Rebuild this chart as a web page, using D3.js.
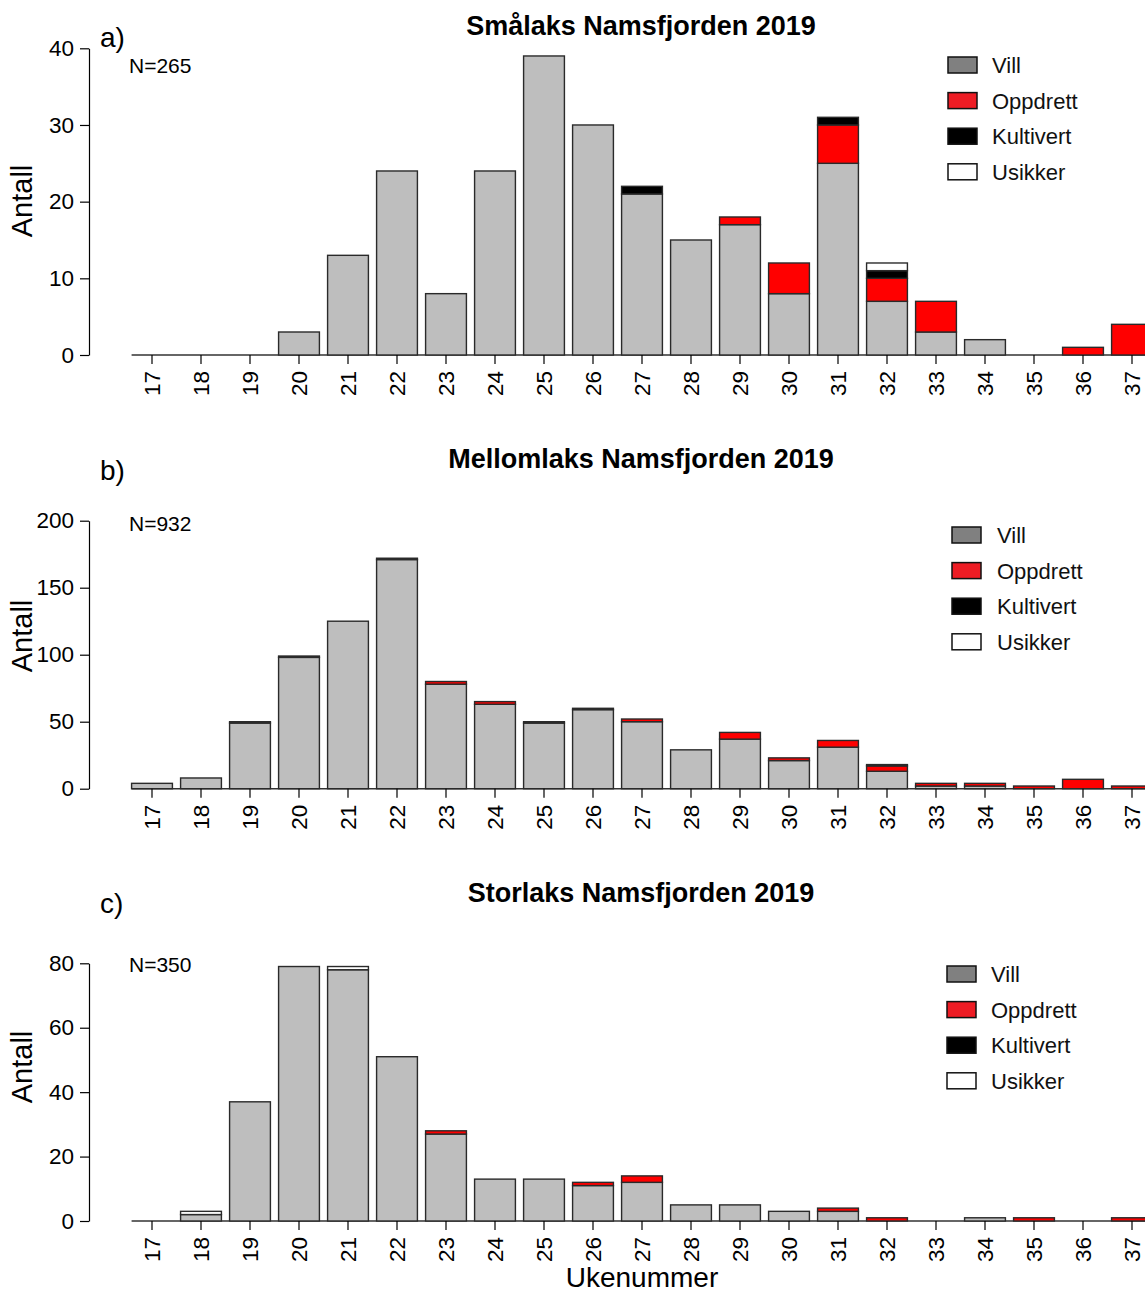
<!DOCTYPE html>
<html>
<head>
<meta charset="utf-8">
<script src="https://cdn.jsdelivr.net/npm/d3@7"></script>
<style>
  body { margin: 0; background: #fff; }
  svg { display: block; font-family: "Liberation Sans", Arial, sans-serif; }
</style>
</head>
<body>
<div id="chart"></div>
<script>
// Week numbers (x categories)
const weeks = d3.range(17, 38);

const categories = ['Vill', 'Oppdrett', 'Kultivert', 'Usikker'];
const colours = ['#bebebe', '#ff0000', '#000000', '#ffffff'];
const legendColours = ['#808080', '#ed1c24', '#000000', '#ffffff'];

// a) Smålaks
const smaVill      = [0,0,0,3,13,24,8,24,39,30,21,15,17,8,25,7,3,2,0,0,0];
const smaOppdrett  = [0,0,0,0,0,0,0,0,0,0,0,0,1,4,5,3,4,0,0,1,4];
const smaKultivert = [0,0,0,0,0,0,0,0,0,0,1,0,0,0,1,1,0,0,0,0,0];
const smaUsikker   = [0,0,0,0,0,0,0,0,0,0,0,0,0,0,0,1,0,0,0,0,0];

// b) Mellomlaks
const melVill      = [4,8,49,98,125,171,78,63,49,59,50,29,37,21,31,13,2,2,0,0,0];
const melOppdrett  = [0,0,0,0,0,0,2,2,0,0,2,0,5,2,5,4,2,2,2,7,2];
const melKultivert = [0,0,1,1,0,1,0,0,1,1,0,0,0,0,0,1,0,0,0,0,0];
const melUsikker   = [0,0,0,0,0,0,0,0,0,0,0,0,0,0,0,0,0,0,0,0,0];

// c) Storlaks
const stoVill      = [0,2,37,79,78,51,27,13,13,11,12,5,5,3,3,0,0,1,0,0,0];
const stoOppdrett  = [0,0,0,0,0,0,1,0,0,1,2,0,0,0,1,1,0,0,1,0,1];
const stoKultivert = [0,0,0,0,0,0,0,0,0,0,0,0,0,0,0,0,0,0,0,0,0];
const stoUsikker   = [0,1,0,0,1,0,0,0,0,0,0,0,0,0,0,0,0,0,0,0,0];

const panels = [
  { letter: 'a)', title: 'Smålaks Namsfjorden 2019', n: 'N=265',
    series: [smaVill, smaOppdrett, smaKultivert, smaUsikker],
    yMax: 40, yStep: 10, y0: 355, yTop: 48.3,
    titleY: 35, letterY: 47, nY: 73, labelY: 201, legX: 948, legY: 65, legTx: 992 },
  { letter: 'b)', title: 'Mellomlaks Namsfjorden 2019', n: 'N=932',
    series: [melVill, melOppdrett, melKultivert, melUsikker],
    yMax: 200, yStep: 50, y0: 788.7, yTop: 520.7,
    titleY: 468, letterY: 480, nY: 531, labelY: 636, legX: 952, legY: 535, legTx: 997 },
  { letter: 'c)', title: 'Storlaks Namsfjorden 2019', n: 'N=350',
    series: [stoVill, stoOppdrett, stoKultivert, stoUsikker],
    yMax: 80, yStep: 20, y0: 1221, yTop: 963.3,
    titleY: 902, letterY: 913, nY: 972, labelY: 1067, legX: 947, legY: 974, legTx: 991 }
];

const width = 1145, height = 1296;

const svg = d3.select('#chart').append('svg')
  .attr('width', width)
  .attr('height', height);

svg.append('rect').attr('width', width).attr('height', height).attr('fill', '#fff');

// bars: width 1, space 0.2 (R barplot style)
const x = d3.scaleBand()
  .domain(weeks)
  .range([127.5, 127.5 + 49 * weeks.length])
  .paddingInner(1 / 6)
  .paddingOuter(1 / 12);

panels.forEach(p => {
  const g = svg.append('g');

  const y = d3.scaleLinear().domain([0, p.yMax]).range([p.y0, p.yTop]);

  // stack the four categories
  const rows = weeks.map((w, i) => {
    const r = { week: w };
    categories.forEach((c, k) => { r[c] = p.series[k][i]; });
    return r;
  });
  const stacked = d3.stack().keys(categories)(rows);

  // baseline
  g.append('line')
    .attr('x1', x(weeks[0])).attr('x2', width + 20)
    .attr('y1', y(0)).attr('y2', y(0))
    .attr('stroke', '#333').attr('stroke-width', 1.4);

  stacked.forEach((layer, k) => {
    g.append('g').selectAll('rect')
      .data(layer.filter(d => d[1] - d[0] > 0))
      .join('rect')
      .attr('x', d => x(d.data.week))
      .attr('width', x.bandwidth())
      .attr('y', d => y(d[1]))
      .attr('height', d => y(d[0]) - y(d[1]))
      .attr('fill', colours[k])
      .attr('stroke', '#2a2a2a')
      .attr('stroke-width', 1.4);
  });

  // y axis
  const yAxis = d3.axisLeft(y)
    .tickValues(d3.range(0, p.yMax + 0.001, p.yStep))
    .tickSize(9).tickSizeOuter(0).tickPadding(6);
  const ya = g.append('g').attr('transform', 'translate(89,0)').call(yAxis);
  ya.select('.domain').attr('stroke', '#000').attr('stroke-width', 1.2);
  ya.selectAll('.tick line').attr('stroke', '#000').attr('stroke-width', 1.2);
  ya.selectAll('.tick text').attr('font-size', 22.5).attr('fill', '#000')
    .attr('font-family', '"Liberation Sans", Arial, sans-serif');

  // x axis (rotated week labels)
  const xAxis = d3.axisBottom(x).tickSize(9).tickSizeOuter(0);
  const xa = g.append('g').attr('transform', `translate(0,${p.y0})`).call(xAxis);
  xa.select('.domain').remove();
  xa.selectAll('.tick line').attr('stroke', '#000').attr('stroke-width', 1.2);
  xa.selectAll('.tick text')
    .attr('font-size', 22.5).attr('fill', '#000')
    .attr('font-family', '"Liberation Sans", Arial, sans-serif')
    .attr('text-anchor', 'end')
    .attr('transform', 'translate(0,16) rotate(-90)')
    .attr('x', 0).attr('y', 0).attr('dy', '0.36em');

  // titles and labels
  g.append('text')
    .attr('x', 641).attr('y', p.titleY)
    .attr('text-anchor', 'middle')
    .attr('font-size', 27).attr('font-weight', 'bold')
    .text(p.title);

  g.append('text')
    .attr('x', 100).attr('y', p.letterY)
    .attr('font-size', 28)
    .text(p.letter);

  g.append('text')
    .attr('x', 129).attr('y', p.nY)
    .attr('font-size', 21)
    .text(p.n);

  g.append('text')
    .attr('transform', `translate(32,${p.labelY}) rotate(-90)`)
    .attr('text-anchor', 'middle')
    .attr('font-size', 29)
    .text('Antall');

  // legend
  const leg = g.append('g');
  categories.forEach((c, k) => {
    const cy = p.legY + k * 35.6;
    leg.append('rect')
      .attr('x', p.legX).attr('y', cy - 8)
      .attr('width', 29).attr('height', 16)
      .attr('fill', legendColours[k])
      .attr('stroke', '#111').attr('stroke-width', 1.5);
    leg.append('text')
      .attr('x', p.legTx).attr('y', cy)
      .attr('dy', '0.36em')
      .attr('font-size', 22)
      .attr('fill', '#111')
      .text(c);
  });
});

svg.append('text')
  .attr('x', 642).attr('y', 1287)
  .attr('text-anchor', 'middle')
  .attr('font-size', 28)
  .text('Ukenummer');
</script>
</body>
</html>
